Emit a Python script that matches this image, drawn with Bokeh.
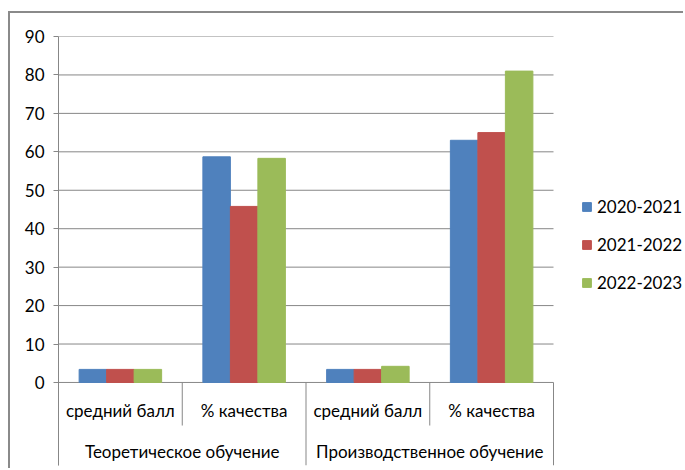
from bokeh.plotting import figure
from bokeh.models import Range1d, FixedTicker, Legend, LegendItem
from bokeh.core.properties import value
from bokeh.embed import file_html
from bokeh.resources import INLINE

# ---- data ----
groups = ["Теоретическое обучение", "Производственное обучение"]
subcats = ["средний балл", "% качества", "средний балл", "% качества"]
years = ["2020-2021", "2021-2022", "2022-2023"]
vals_2020_2021 = [3.4, 58.7, 3.4, 63.0]
vals_2021_2022 = [3.4, 45.8, 3.4, 65.0]
vals_2022_2023 = [3.4, 58.3, 4.2, 81.0]
y_ticks = [0, 10, 20, 30, 40, 50, 60, 70, 80, 90]

series = [vals_2020_2021, vals_2021_2022, vals_2022_2023]
colors = ["#4F81BD", "#C0504D", "#9BBB59"]
FONT = "Lato"
FS = "17px"
GRAY = "#878787"

n = len(subcats)
W, H = 675, 457
LEFT = 48
plot_w = W - LEFT          # frame spans to the right edge; legend sits in it
data_w = 495               # pixel width of the category area
x_end = n * plot_w / data_w

p = figure(width=W, height=H, output_backend="svg", toolbar_location=None,
           x_range=Range1d(0, x_end), y_range=Range1d(-21.6, 90),
           min_border_left=LEFT, min_border_top=23, min_border_bottom=5, min_border_right=0)
p.styles = {"border-left": "2px solid #8a8a8a", "border-top": "2px solid #8a8a8a",
            "margin-top": "11px", "margin-left": "8px"}
p.outline_line_color = None
p.xaxis.visible = False
p.xgrid.visible = False
p.ygrid.visible = False
p.yaxis.ticker = FixedTicker(ticks=y_ticks)
p.yaxis.axis_line_color = GRAY
p.yaxis.major_tick_line_color = GRAY
p.yaxis.major_tick_out = 5
p.yaxis.major_tick_in = 0
p.yaxis.minor_tick_line_color = None
p.yaxis.major_label_text_font = FONT
p.yaxis.major_label_text_font_size = FS
p.yaxis.major_label_text_color = "black"
p.yaxis.major_label_standoff = 9

# horizontal gridlines over the category area only
p.segment(x0=[0] * len(y_ticks), x1=[n] * len(y_ticks), y0=y_ticks, y1=y_ticks,
          line_color=GRAY, line_width=1)

bw = 1 / 4.5
items = []
for k, (vals, col, yr) in enumerate(zip(series, colors, years)):
    xs = [i + 0.5 + (k - 1) * bw for i in range(n)]
    r = p.vbar(x=xs, top=vals, bottom=0, width=bw, fill_color=col, line_color=col)
    items.append(LegendItem(label=yr, renderers=[r]))

# category separators
inner = [i for i in range(1, n, 2)]
outer = [i for i in range(0, n + 1, 2)]
p.segment(x0=inner, x1=inner, y0=[0] * len(inner), y1=[-11.2] * len(inner), line_color=GRAY, line_width=1)
p.segment(x0=outer, x1=outer, y0=[0] * len(outer), y1=[-21.6] * len(outer), line_color=GRAY, line_width=1)

# category labels
p.text(x=[i + 0.5 for i in range(n)], y=[-7.3] * n, text=subcats,
       text_font=value(FONT), text_font_size=FS, text_align="center", text_baseline="middle", text_color="black")
p.text(x=[2 * g + 1 for g in range(len(groups))], y=[-17.9] * len(groups), text=groups,
       text_font=value(FONT), text_font_size=FS, text_align="center", text_baseline="middle", text_color="black")

legend = Legend(items=items, location=(523, 172), padding=0, margin=0, spacing=17,
                glyph_width=11, glyph_height=11, label_standoff=5, label_height=21,
                label_text_font=FONT, label_text_font_size=FS, label_text_color="black",
                border_line_color=None, background_fill_alpha=0)
p.add_layout(legend, "center")

open("out.html", "w").write(file_html(p, INLINE))
